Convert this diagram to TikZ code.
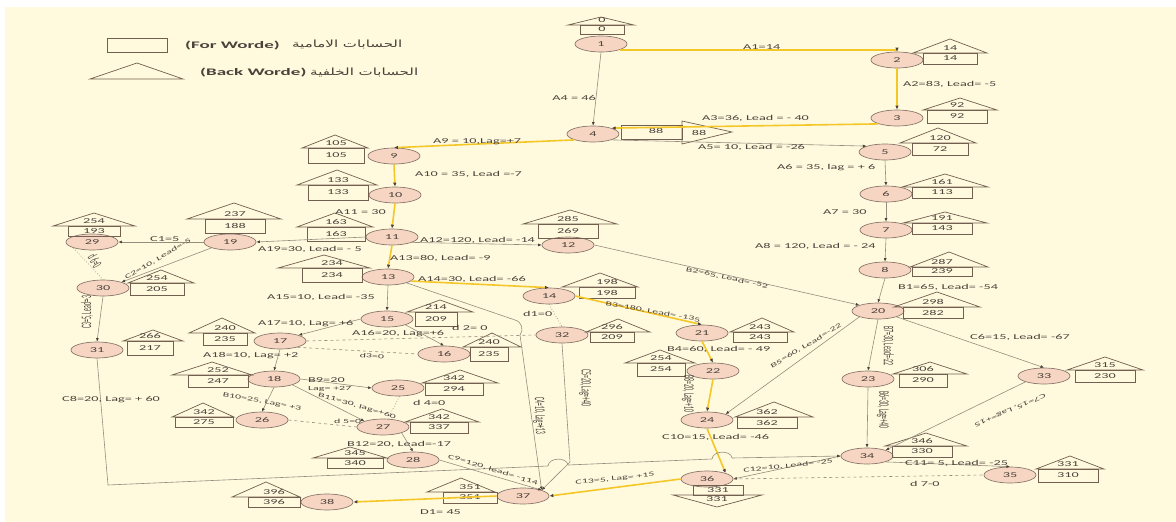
\documentclass[tikz,border=0pt]{standalone}
\usepackage{graphicx}
\usepackage{fontspec}
\setmainfont{Carlito}[FakeStretch=1.9]
\newfontfamily\vfont{Carlito}
\newfontfamily\arabicfont[Script=Arabic]{DejaVu Sans}
\TeXXeTstate=1
\usetikzlibrary{shapes.geometric,arrows.meta}
\definecolor{bgc}{RGB}{255,250,222}
\definecolor{nfill}{RGB}{246,214,194}
\definecolor{nbord}{RGB}{140,120,108}
\definecolor{hcol}{RGB}{115,95,80}
\definecolor{lcol}{RGB}{150,140,125}
\definecolor{gold}{RGB}{245,198,40}
\definecolor{tcol}{RGB}{75,65,58}
\newcommand\lfont{\fontsize{7.5}{8}\selectfont}
\newcommand\sfontx{\fontsize{6.3}{7}\selectfont}
\newcommand\vtext[1]{\scalebox{1}[2.5]{\vfont\fontsize{5.8}{6}\selectfont #1}}
\tikzset{
 ev/.style={ellipse,draw=nbord,fill=nfill,line width=0.7pt,minimum width=52pt,minimum height=16pt,inner sep=0pt,font=\lfont,text=tcol},
 hline/.style={draw=hcol,line width=0.7pt},
 htext/.style={font=\lfont,text=tcol,inner sep=0pt},
 gl/.style={draw=lcol,line width=0.6pt,-{Latex[length=3.5pt,width=3pt,color=tcol]}},
 yl/.style={draw=gold,line width=1.6pt,-{Latex[length=4pt,width=3.5pt,color=tcol]}},
 dl/.style={draw=lcol,line width=0.6pt,dashed},
 dtl/.style={draw=lcol,line width=0.7pt,dotted},
 lb/.style={font=\lfont,text=tcol,inner sep=0pt},
 lw/.style={lb,anchor=west},
 lr/.style={lb,font=\sfontx},
}
\newcommand\house[9]{%
  \draw[hline] (#3-#4,#6) -- (#3,#5) -- (#3+#4,#6) -- cycle;
  \draw[hline] (#1-#2,#6) rectangle (#1+#2,#7);
  \node[htext] at (#1,#6-5) {#8};
  \node[htext] at (#1,{(#6+#7)/2}) {#9};
}
\begin{document}
\begin{tikzpicture}[x=1pt,y=-1pt]
\useasboundingbox (0,0) rectangle (1176,522);
\fill[white] (0,0) rectangle (1176,522);
\fill[bgc] (5,7) rectangle (1176,522);
% legend
\draw[hline] (107,38) rectangle (167,52);
\draw[hline] (90,79) -- (137,63) -- (183,79) -- cycle;
\node[lw,font=\bfseries\fontsize{10}{11}\selectfont] (lg1) at (185,46) {(For Worde)};
\node[lw] (lg1a) at (292,44) {\resizebox*{110pt}{9pt}{\arabicfont\beginR الحسابات الامامية\endR}};
\node[lw,font=\bfseries\fontsize{10}{11}\selectfont] (lg2) at (200,73) {(Back Worde)};
\node[lw] (lg2a) at (310,72) {\resizebox*{108pt}{9pt}{\arabicfont\beginR الحسابات الخلفية\endR}};
% nodes
\node[ev] (n1) at (601,44) {1};
\node[ev] (n2) at (897,60) {2};
\node[ev] (n3) at (897,118) {3};
\node[ev] (n4) at (593,134) {4};
\node[ev] (n5) at (885,152) {5};
\node[ev] (n6) at (886,194) {6};
\node[ev] (n7) at (886,230) {7};
\node[ev] (n8) at (885,270) {8};
\node[ev] (n9) at (394,156) {9};
\node[ev] (n10) at (395,195) {10};
\node[ev] (n11) at (392,237) {11};
\node[ev] (n12) at (568,245) {12};
\node[ev] (n13) at (388,277) {13};
\node[ev] (n14) at (549,296) {14};
\node[ev] (n15) at (387,319) {15};
\node[ev] (n16) at (444,354) {16};
\node[ev] (n17) at (280,341) {17};
\node[ev] (n18) at (274,379) {18};
\node[ev] (n19) at (230,242) {19};
\node[ev] (n20) at (878,311) {20};
\node[ev] (n21) at (702,333) {21};
\node[ev] (n22) at (713,371) {22};
\node[ev] (n23) at (868,379) {23};
\node[ev] (n24) at (707,420) {24};
\node[ev] (n25) at (398,388) {25};
\node[ev] (n26) at (262,420) {26};
\node[ev] (n27) at (383,427) {27};
\node[ev] (n28) at (413,460) {28};
\node[ev] (n29) at (92,242) {29};
\node[ev] (n30) at (103,288) {30};
\node[ev] (n31) at (97,350) {31};
\node[ev] (n32) at (562,335) {32};
\node[ev] (n33) at (1044,376) {33};
\node[ev] (n34) at (867,456) {34};
\node[ev] (n35) at (1010,475) {35};
\node[ev] (n36) at (707,479) {36};
\node[ev] (n37) at (523,496) {37};
\node[ev] (n38) at (327,502) {38};
% houses
\house{602}{22}{601}{33}{17}{25}{34}{0}{0}
\house{950}{27}{950}{37}{39}{53}{64}{14}{14}
\house{957}{30}{960}{37}{98}{110}{123}{92}{92}
\house{940}{28}{938}{38}{128}{143}{155}{120}{72}
\house{942}{30}{945}{43}{174}{187}{198}{161}{113}
\house{942}{30}{945}{42}{212}{223}{234}{191}{143}
\house{942}{30}{949}{39}{252}{267}{276}{287}{239}
\house{933}{30}{937}{43}{292}{307}{318}{298}{282}
\house{336}{28}{335}{33}{135}{148}{163}{105}{105}
\house{338}{30}{337}{40}{170}{185}{200}{133}{133}
\house{336}{29}{335}{38}{213}{227}{241}{163}{163}
\house{332}{30}{324}{46}{255}{268}{282}{234}{234}
\house{568}{30}{570}{47}{210}{224}{238}{285}{269}
\house{607}{28}{600}{38}{273}{287}{298}{198}{198}
\house{436}{21}{440}{33}{300}{312}{326}{214}{209}
\house{489}{19}{492}{29}{333}{347}{361}{240}{235}
\house{225}{22}{222}{33}{318}{333}{345}{240}{235}
\house{218}{30}{212}{40}{362}{375}{387}{252}{247}
\house{235}{30}{234}{47}{203}{219}{233}{237}{188}
\house{760}{27}{762}{32}{318}{332}{342}{243}{243}
\house{661}{24}{660}{35}{350}{363}{376}{254}{254}
\house{923}{24}{930}{37}{362}{374}{387}{306}{290}
\house{767}{30}{774}{39}{402}{417}{428}{362}{362}
\house{454}{29}{460}{38}{370}{383}{395}{342}{294}
\house{204}{29}{203}{31}{403}{417}{427}{342}{275}
\house{439}{29}{442}{37}{409}{422}{433}{342}{337}
\house{355}{28}{350}{37}{447}{458}{468}{345}{340}
\house{94}{26}{94}{41}{213}{226}{236}{254}{193}
\house{157}{27}{161}{33}{270}{283}{295}{254}{205}
\house{150}{23}{153}{30}{330}{341}{355}{266}{217}
\house{612}{22}{618}{32}{319}{332}{342}{296}{209}
\house{1105}{30}{1105}{38}{357}{370}{382}{315}{230}
\house{922}{30}{926}{41}{433}{446}{457}{346}{330}
\house{1068}{30}{1070}{34}{456}{469}{482}{331}{310}
\house{470}{27}{461}{34}{478}{492}{503}{351}{351}
\house{274}{26}{266}{34}{482}{497}{507}{396}{396}
% node 4 side house
\draw[hline] (621,125) rectangle (682,139);
\draw[hline] (682,121) -- (732,132) -- (682,144) -- cycle;
\node[htext] at (656,131) {88};
\node[htext] at (699,133) {88};
% node 36 down house
\draw[hline] (693,485) rectangle (743,495);
\draw[hline] (673,495) -- (717,507) -- (762,495) -- cycle;
\node[htext] at (718,490) {331};
\node[htext] at (717,499) {331};
% edges
\draw[yl] (n1.south east) -| (n2.north);
\draw[gl] (n1.south) -- (n4.north);
\draw[yl] (n2.south) -- (n3.north);
\draw[yl] (n3.south west) -- (n4.north east);
\draw[gl] (n4.south east) -- (n5.north west);
\draw[yl] (n4.south west) -- (n9.north);
\draw[gl] (n5.south) -- (n6.north);
\draw[gl] (n6.south) -- (n7.north);
\draw[gl] (n7.south) -- (n8.north);
\draw[gl] (n8.south) -- (n20.north);
\draw[yl] (n9.south) -- (n10.north);
\draw[yl] (n10.south) -- (n11.north);
\draw[gl] (n11.-15) -- (n12.west);
\draw[gl] (n11.west) -- (n19.east);
\draw[yl] (n11.south) -- (n13.north);
\draw[yl] (n13.-10) -- (n14.north);
\draw[gl] (n13.south) -- (n15.north);
\draw[gl] (n15.west) -- (n17.north east);
\draw[gl] (n15.south east) -- (n16.north);
\draw[gl] (n17.south) -- (n18.north);
\draw[dl] (n17.east) -- (n32.west);
\draw[dl] (n17.-20) -- (n16.west);
\draw[gl] (n18.east) -- (n25.west);
\draw[gl] (n18.south east) -- (n27.north west);
\draw[gl] (n18.south) -- (n26.north);
\draw[dtl] (n25.-80) -- (n27.60);
\draw[dl] (n26.east) -- (n27.west);
\draw[gl] (n27.south east) -- (n28.north);
\draw[gl] (n28.east) -- (n37.north east);
\draw[gl] (n13.south east) -- (515,320) .. controls (522,322) and (524,330) .. (520,335) -- (538,463) -- (n37.north east);
\draw[gl] (n32.south) -- (570,462) -- (n37.north east);
\draw[yl] (n36.west) -- (n37.east);
\draw[yl] (n37.west) -- (n38.east);
\draw[gl] (n12.east) -- (n20.north west);
\draw[yl] (n14.east) -- (n21.north);
\draw[dtl] (n14.south) -- (n32.north);
\draw[yl] (n21.south) -- (n22.north);
\draw[yl] (n22.south) -- (n24.north);
\draw[gl] (n20.south west) -- (n24.north east);
\draw[yl] (n24.south) -- (n36.north east);
\draw[gl] (n20.south) -- (n23.north);
\draw[gl] (n20.south east) -- (n33.north);
\draw[gl] (n23.south) -- (n34.north);
\draw[gl] (n33.south west) -- (n34.north east);
\draw[gl] (n34.south east) -- (n35.north);
\draw[gl] (n34.west) -- (n36.east);
\draw[dl] (n36.east) -- (n35.west);
\draw[gl] (n31.south) -- (108,485) -- (548,466) .. controls (549,457) and (567,457) .. (568,465) -- (712,459) .. controls (713,450) and (731,450) .. (732,458) -- (n34.west);
\draw[gl] (n19.west) -- (n29.east);
\draw[gl] (n19.south west) -- (n30.north east);
\draw[dtl] (n29.south west) -- (n30.north);
\draw[gl] (n30.south) -- (n31.north);
% labels
\node[lw] at (743,47) {A1=14};
\node[lb,anchor=east] at (596,98) {A4 = 46};
\node[lw] at (903,84) {A2=83, Lead= -5};
\node[lw] at (702,118) {A3=36, Lead = - 40};
\node[lw] at (698,147) {A5= 10, Lead = -26};
\node[lw] at (777,168) {A6 = 35, lag = + 6};
\node[lw] at (823,212) {A7 = 30};
\node[lw] at (755,246) {A8 = 120, Lead = - 24};
\node[lw] at (898,287) {B1=65, Lead= -54};
\node[lw] at (970,337) {C6=15, Lead= -67};
\node[lw] at (433,142) {A9 = 10,Lag=+7};
\node[lw] at (415,174) {A10 = 35, Lead =-7};
\node[lw] at (335,212) {A11 = 30};
\node[lw] at (420,240) {A12=120, Lead= -14};
\node[lw] at (258,249) {A19=30, Lead= - 5};
\node[lw] at (150,239) {C1=5};
\node[lw] at (390,258) {A13=80, Lead= -9};
\node[lw] at (418,279) {A14=30, Lead= -66};
\node[lw] at (267,297) {A15=10, Lead= -35};
\node[lw] at (258,324) {A17=10, Lag= +6};
\node[lw] at (352,334) {A16=20, Lag=+6};
\node[lw] at (452,328) {d 2= 0};
\node[lw] at (523,314) {d1=0};
\node[lw] at (203,356) {A18=10, Lag= +2};
\node[lr,rotate=-5] at (372,356) {d3=0};
\node[lw] at (308,380) {B9=20};
\node[lw,font=\sfontx] at (308,389) {Lag= +27};
\node[lr,rotate=-16] at (357,406) {B11=30, lag=+60};
\node[lr,rotate=-10] at (262,402) {B10=25, Lag= +3};
\node[lw] at (413,403) {d 4=0};
\node[lw,font=\sfontx] at (334,421) {d 5=0};
\node[lw] at (347,444) {B12=20, Lead=-17};
\node[lw] at (62,400) {C8=20, Lag= + 60};
\node[lw] at (420,512) {D1= 45};
\node[lr,rotate=6] at (615,479) {C13=5, Lag= +15};
\node[lw] at (662,437) {C10=15, Lead= -46};
\node[lr,rotate=6] at (788,466) {C12=10, Lead= -25};
\node[lw] at (905,463) {C11= 5, Lead= -25};
\node[lw] at (910,484) {d 7-0};
\node[lw] at (667,349) {B4=60, Lead= - 49};
\node[lr,rotate=-12] at (727,278) {B2=65, Lead= -52};
\node[lr,rotate=-10] at (653,312) {B3=180, Lead= -135};
\node[lr,rotate=30] at (158,259) {C2=10, Lead=-5};
\node[lb,rotate=-60] at (95,261) {\vtext{d 6=0}};
\node[lb,rotate=90] at (87,312) {\vtext{C3=5, Lead=-3}};
\node[lb,rotate=-88] at (539,416) {\vtext{C4=10, Lag=+13}};
\node[lb,rotate=-90] at (585,388) {\vtext{C5=20, Lag=+40}};
\node[lr,rotate=-17] at (493,470) {C9=120, lead= -114};
\node[lb,rotate=-90] at (688,394) {\vtext{B8=20, Lag=+10}};
\node[lr,rotate=31] at (806,346) {B5=60, Lead=-22};
\node[lb,rotate=-90] at (888,346) {\vtext{B7=30, Lead=-22}};
\node[lb,rotate=-90] at (883,410) {\vtext{B6=30, Lag=+40}};
\node[lr,rotate=203] at (1010,410) {C7=15, Lag=+15};
\end{tikzpicture}
\end{document}
